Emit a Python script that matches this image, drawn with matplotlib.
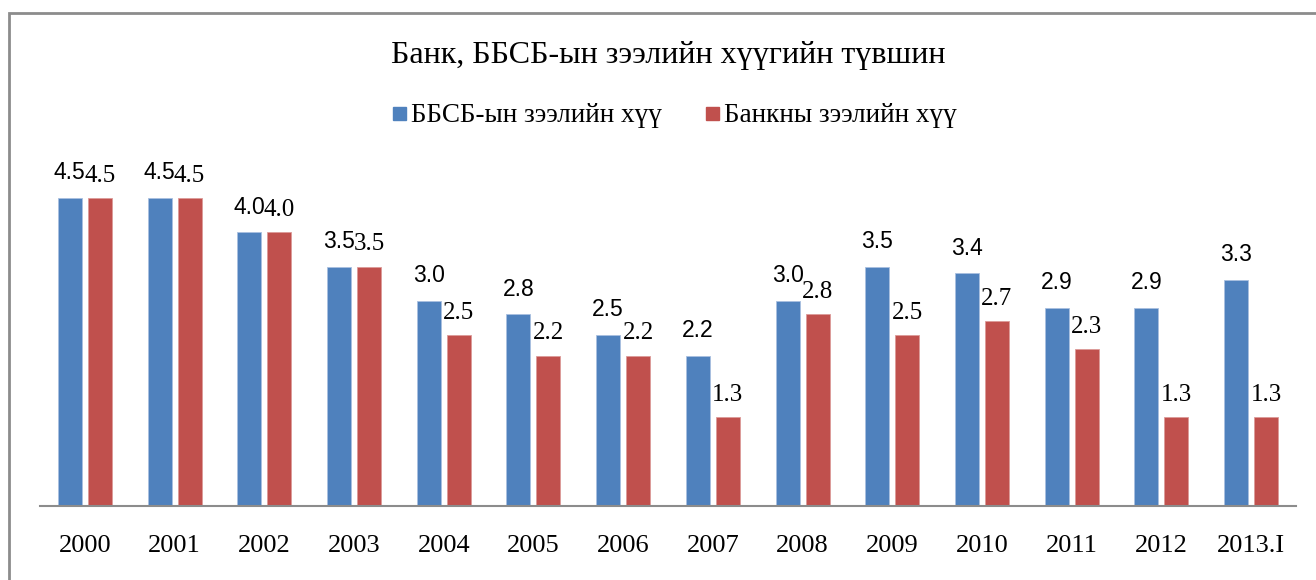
import numpy as np
import matplotlib.pyplot as plt
from matplotlib.patches import Rectangle

# chart data
years = ['2000', '2001', '2002', '2003', '2004', '2005', '2006', '2007',
         '2008', '2009', '2010', '2011', '2012', '2013.I']
bbsb_rate = [4.5, 4.5, 4.0, 3.5, 3.0, 2.8, 2.5, 2.2, 3.0, 3.5, 3.4, 2.9, 2.9, 3.3]
bank_rate = [4.5, 4.5, 4.0, 3.5, 2.5, 2.2, 2.2, 1.3, 2.8, 2.5, 2.7, 2.3, 1.3, 1.3]
title = 'Банк, ББСБ-ын зээлийн хүүгийн түвшин'
series_names = ['ББСБ-ын зээлийн хүү', 'Банкны зээлийн хүү']

blue = '#4F81BD'
red = '#C0504D'
serif = 'Liberation Serif'
sans = 'Liberation Sans'

W, H = 1316, 580
fig = plt.figure(figsize=(W / 100, H / 100), dpi=100)

# outer chart frame (only left and top visible, the rest is cropped)
fig.patches.append(Rectangle((9 / W, -0.1), 1.2, (H - 13) / H + 0.1,
                             transform=fig.transFigure, fill=False,
                             edgecolor='#8c8c8c', linewidth=2))

ax = fig.add_axes([40 / W, 74 / H, 1256 / W, 342 / H])
x = np.arange(len(years))
w = 0.268
off = 0.167
b1 = ax.bar(x - off, bbsb_rate, w, color=blue, edgecolor='#a9c0e0', linewidth=0.6)
b2 = ax.bar(x + off, bank_rate, w, color=red, edgecolor='#dc9a98', linewidth=0.6)

for rect, v in zip(b1, bbsb_rate):
    ax.annotate(f'{v:.1f}', (rect.get_x() + rect.get_width() / 2, v),
                xytext=(0, 10), textcoords='offset points', ha='center',
                va='bottom', fontsize=16.5, family=sans)
for rect, v in zip(b2, bank_rate):
    ax.annotate(f'{v:.1f}', (rect.get_x() + rect.get_width() / 2, v),
                xytext=(0, 8), textcoords='offset points', ha='center',
                va='bottom', fontsize=18, family=serif)

ax.set_xlim(-0.5, len(years) - 0.5)
ax.set_ylim(0, 5)
ax.set_xticks(x)
ax.set_xticklabels(years, family=serif, fontsize=19)
ax.tick_params(axis='x', length=0, pad=21)
ax.set_yticks([])
for s in ['top', 'right', 'left']:
    ax.spines[s].set_visible(False)
ax.spines['bottom'].set_color('#8c8c8c')
ax.spines['bottom'].set_linewidth(1.5)

fig.text(668 / W, 1 - 56 / H, title, ha='center', va='center',
         family=serif, fontsize=23)

# legend
fig.patches.append(Rectangle((393 / W, 1 - 120 / H), 13 / W, 13 / H,
                             transform=fig.transFigure, color=blue))
fig.text(411 / W, 1 - 115 / H, series_names[0], ha='left', va='center',
         family=serif, fontsize=19.5)
fig.patches.append(Rectangle((706 / W, 1 - 120 / H), 13 / W, 13 / H,
                             transform=fig.transFigure, color=red))
fig.text(724 / W, 1 - 115 / H, series_names[1], ha='left', va='center',
         family=serif, fontsize=19.5)

fig.savefig('out.png', dpi=100)
